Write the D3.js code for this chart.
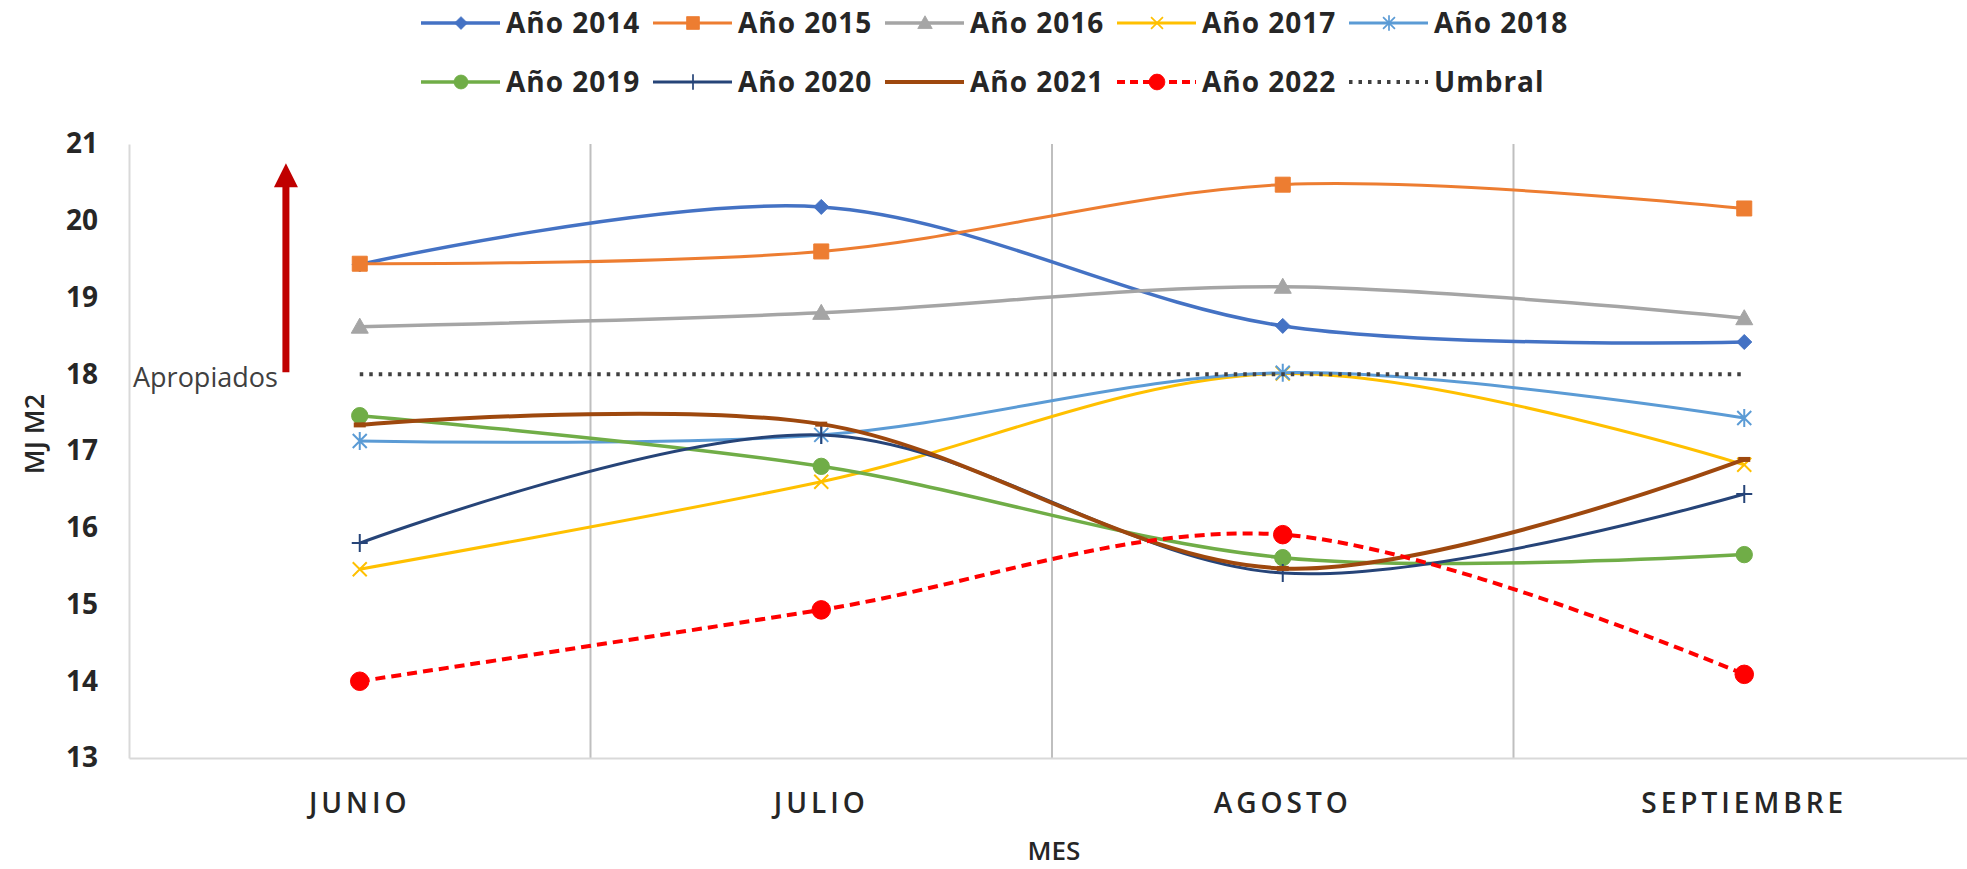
<html>
<head>
  <meta charset="utf-8">
  <style type="text/css">
    body { margin: 0; background: #fff; }
    svg { display: block; }
  </style>
</head>
<body>
  <div id="viz"></div>
  <script src="https://cdnjs.cloudflare.com/ajax/libs/d3/7.8.5/d3.min.js"></script>
  <script>
  // data
  const meses = ['JUNIO', 'JULIO', 'AGOSTO', 'SEPTIEMBRE'];
  const anio2014 = [19.43, 20.18, 18.63, 18.42];
  const anio2015 = [19.44, 19.60, 20.47, 20.16];
  const anio2016 = [18.62, 18.80, 19.14, 18.73];
  const anio2017 = [15.46, 16.60, 18.01, 16.82];
  const anio2018 = [17.13, 17.21, 18.02, 17.43];
  const anio2019 = [17.46, 16.80, 15.61, 15.65];
  const anio2020 = [15.80, 17.21, 15.41, 16.44];
  const anio2021 = [17.34, 17.35, 15.47, 16.89];
  const anio2022 = [14.00, 14.93, 15.91, 14.09];
  const umbral = [18, 18, 18, 18];
  const yTicks = [13, 14, 15, 16, 17, 18, 19, 20, 21];
  // annotation: "Apropiados" arrow from the threshold upwards
  const flecha = [18, 20.75];

  // series table (styles kept here, values come from the arrays above)
  const series = [
    { name: 'Año 2014', values: anio2014, color: '#4472C4', marker: 'diamond', w: 3.5 },
    { name: 'Año 2015', values: anio2015, color: '#ED7D31', marker: 'square', w: 3 },
    { name: 'Año 2016', values: anio2016, color: '#A5A5A5', marker: 'triangle', w: 3.5 },
    { name: 'Año 2017', values: anio2017, color: '#FFC000', marker: 'x', w: 3 },
    { name: 'Año 2018', values: anio2018, color: '#5B9BD5', marker: 'asterisk', w: 3 },
    { name: 'Año 2019', values: anio2019, color: '#70AD47', marker: 'circle', w: 3.5 },
    { name: 'Año 2020', values: anio2020, color: '#264478', marker: 'plus', w: 3 },
    { name: 'Año 2021', values: anio2021, color: '#9E480E', marker: 'dash', w: 4 },
    { name: 'Año 2022', values: anio2022, color: '#FF0000', marker: 'bigcircle', w: 4, dash: '10,6' },
    { name: 'Umbral', values: umbral, color: '#404040', marker: 'none', w: 4, dash: '3.5,6', dotted: true }
  ];

  const width = 1967, height = 869;
  const plotLeft = 129, plotRight = 1975, plotTop = 144, plotBottom = 758;

  const svg = d3.select('#viz').append('svg')
    .attr('width', width)
    .attr('height', height)
    .style('font-family', '"Open Sans", sans-serif');

  const x = d3.scaleBand()
    .domain(meses)
    .range([plotLeft, plotRight])
    .padding(0);
  const cx = (m) => x(m) + x.bandwidth() / 2;

  const y = d3.scaleLinear()
    .domain([13, 21])
    .range([plotBottom, plotTop]);

  // vertical gridlines between categories
  svg.append('g')
    .selectAll('line')
    .data(meses.slice(1))
    .enter().append('line')
      .attr('x1', (d) => x(d))
      .attr('x2', (d) => x(d))
      .attr('y1', plotTop)
      .attr('y2', plotBottom)
      .attr('stroke', '#BFBFBF')
      .attr('stroke-width', 2);

  // y axis
  const yAxis = svg.append('g')
    .attr('transform', 'translate(' + plotLeft + ',0)')
    .call(d3.axisLeft(y).tickValues(yTicks).tickSize(0).tickPadding(31));
  yAxis.select('.domain').attr('stroke', '#D9D9D9').attr('stroke-width', 2);
  yAxis.selectAll('text')
    .attr('fill', '#262626')
    .style('font-size', '28px')
    .style('font-weight', 700)
    .style('font-family', '"Open Sans", sans-serif');

  // x axis
  const xAxis = svg.append('g')
    .attr('transform', 'translate(0,' + plotBottom + ')')
    .call(d3.axisBottom(x).tickSize(0));
  xAxis.select('.domain').attr('stroke', '#D9D9D9').attr('stroke-width', 2);
  xAxis.selectAll('text')
    .attr('y', 45)
    .attr('dy', '0.36em')
    .attr('fill', '#262626')
    .style('font-size', '28px')
    .style('font-weight', 600)
    .style('letter-spacing', '4px')
    .style('font-family', '"Open Sans", sans-serif');

  // axis titles
  svg.append('text')
    .attr('x', (plotLeft + plotRight) / 2 + 2)
    .attr('y', 860)
    .attr('text-anchor', 'middle')
    .attr('fill', '#262626')
    .style('font-size', '26px')
    .style('font-weight', 600)
    .text('MES');

  svg.append('text')
    .attr('transform', 'translate(44,434) rotate(-90)')
    .attr('text-anchor', 'middle')
    .attr('fill', '#262626')
    .style('font-size', '27px')
    .style('font-weight', 600)
    .text('MJ M2');

  // marker paths
  const markerPath = (type) => {
    switch (type) {
      case 'diamond': return 'M0,-7.5L7.5,0L0,7.5L-7.5,0Z';
      case 'square': return 'M-7.5,-7.5H7.5V7.5H-7.5Z';
      case 'triangle': return 'M0,-8.5L8.5,6.5L-8.5,6.5Z';
      case 'x': return 'M-7,-7L7,7M-7,7L7,-7';
      case 'asterisk': return 'M-7,-7L7,7M-7,7L7,-7M0,-9L0,9';
      case 'plus': return 'M-8,0L8,0M0,-9L0,9';
      case 'dash': return 'M-6,0L6,0';
      case 'circle': return d3.symbol(d3.symbolCircle, 210)();
      case 'bigcircle': return d3.symbol(d3.symbolCircle, 270)();
      default: return null;
    }
  };
  const filled = (type) => ['diamond', 'square', 'triangle', 'circle', 'bigcircle'].includes(type);

  const line = d3.line()
    .x((d, i) => cx(meses[i]))
    .y((d) => y(d))
    .curve(d3.curveCardinal.tension(0));

  const flatLine = d3.line()
    .x((d, i) => cx(meses[i]))
    .y((d) => y(d));

  const seriesG = svg.append('g')
    .selectAll('g')
    .data(series)
    .enter().append('g');

  seriesG.append('path')
    .attr('d', (s) => s.dotted ? flatLine(s.values) : line(s.values))
    .attr('fill', 'none')
    .attr('stroke', (s) => s.color)
    .attr('stroke-width', (s) => s.w)
    .attr('stroke-dasharray', (s) => s.dash || null);

  seriesG.each(function(s) {
    if (s.marker === 'none') return;
    d3.select(this).selectAll('path.mk')
      .data(s.values)
      .enter().append('path')
        .attr('class', 'mk')
        .attr('transform', (d, i) => 'translate(' + cx(meses[i]) + ',' + y(d) + ')')
        .attr('d', markerPath(s.marker))
        .attr('fill', filled(s.marker) ? s.color : 'none')
        .attr('stroke', s.color)
        .attr('stroke-width', filled(s.marker) ? 1 : (s.marker === 'dash' ? 5 : 2));
  });

  // annotation arrow and label
  const arrowX = x('JUNIO') + x.bandwidth() * 0.34;
  svg.append('line')
    .attr('x1', arrowX)
    .attr('x2', arrowX)
    .attr('y1', y(flecha[0]) - 2)
    .attr('y2', y(flecha[1]) + 22)
    .attr('stroke', '#C00000')
    .attr('stroke-width', 7);
  svg.append('path')
    .attr('transform', 'translate(' + arrowX + ',' + y(flecha[1]) + ')')
    .attr('d', 'M0,0L12,24L-12,24Z')
    .attr('fill', '#C00000');

  svg.append('text')
    .attr('x', plotLeft + 4)
    .attr('y', y(flecha[0]) + 13)
    .attr('fill', '#404040')
    .style('font-size', '27px')
    .text('Apropiados');

  // legend
  const legend = svg.append('g')
    .selectAll('g')
    .data(series)
    .enter().append('g')
      .attr('transform', (s, i) => 'translate(' + (421 + (i % 5) * 232) + ',' + (i < 5 ? 23 : 82) + ')');

  legend.append('line')
    .attr('x1', 0)
    .attr('x2', 79)
    .attr('stroke', (s) => s.color)
    .attr('stroke-width', (s) => s.w)
    .attr('stroke-dasharray', (s) => s.dotted ? '3.5,6' : (s.dash ? '8,5' : null));

  legend.each(function(s) {
    if (s.marker === 'none') return;
    d3.select(this).append('path')
      .attr('transform', 'translate(40,0) scale(0.85)')
      .attr('d', markerPath(s.marker))
      .attr('fill', filled(s.marker) ? s.color : 'none')
      .attr('stroke', s.color)
      .attr('stroke-width', filled(s.marker) ? 1 : 2);
  });

  legend.append('text')
    .attr('x', 85)
    .attr('dy', '0.36em')
    .attr('fill', '#262626')
    .style('font-size', '28px')
    .style('font-weight', 700)
    .style('letter-spacing', '1px')
    .text((s) => s.name);
  </script>
</body>
</html>
